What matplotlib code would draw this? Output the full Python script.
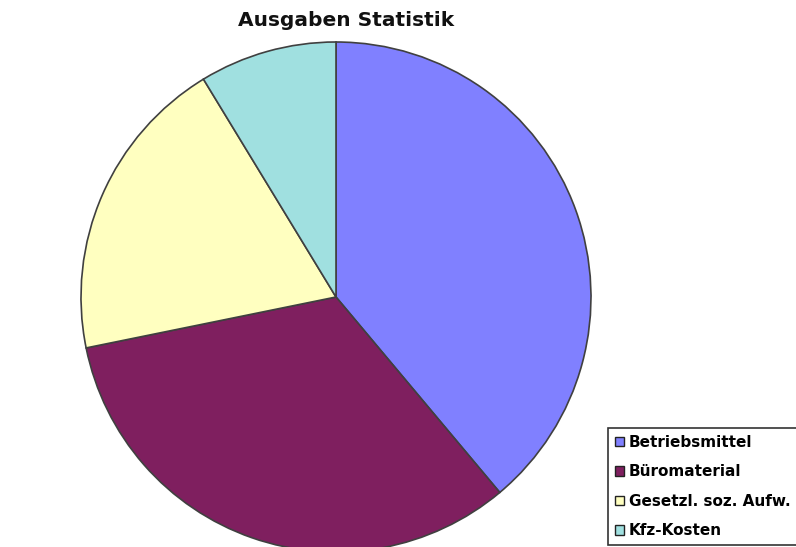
import matplotlib
matplotlib.use("Agg")
import matplotlib.pyplot as plt
from matplotlib.patches import Patch

categories = ["Betriebsmittel", "Büromaterial", "Gesetzl. soz. Aufw.", "Kfz-Kosten"]
values = [38.9, 32.9, 19.5, 8.7]
colors = ["#8080FF", "#7F1F5F", "#FFFFC0", "#A0E0E0"]

plt.rcParams['font.family'] = ['DejaVu Sans']

W, H = 796, 547
fig = plt.figure(figsize=(W/100, H/100), dpi=100)
ax = fig.add_axes([0, 0, 1, 1])
ax.set_xlim(0, W)
ax.set_ylim(0, H)
ax.set_aspect('equal')
ax.axis('off')

ax.pie(values, colors=colors, startangle=90, counterclock=False,
       center=(336, H - 297), radius=255,
       wedgeprops=dict(edgecolor='#404040', linewidth=1.2))
ax.set_xlim(0, W)
ax.set_ylim(0, H)

fig.text(346/W, 1 - 20/H, "Ausgaben Statistik", ha='center', va='center',
         fontsize=14.5, fontweight='bold', color='#111111')

handles = [Patch(facecolor=c, edgecolor='#222222', linewidth=1) for c in colors]
leg = fig.legend(handles, categories, loc='upper left',
                 bbox_to_anchor=(608/W, 1 - 428/H - 117/H, 200/W, 117/H),
                 mode='expand',
                 frameon=True, fancybox=False, edgecolor='black',
                 handlelength=0.6, handleheight=0.6, handletextpad=0.3,
                 labelspacing=0.95, borderpad=0.45, borderaxespad=0,
                 prop=dict(size=11, weight='bold'))
leg.get_frame().set_linewidth(1.2)

fig.savefig("out.png", dpi=100)
